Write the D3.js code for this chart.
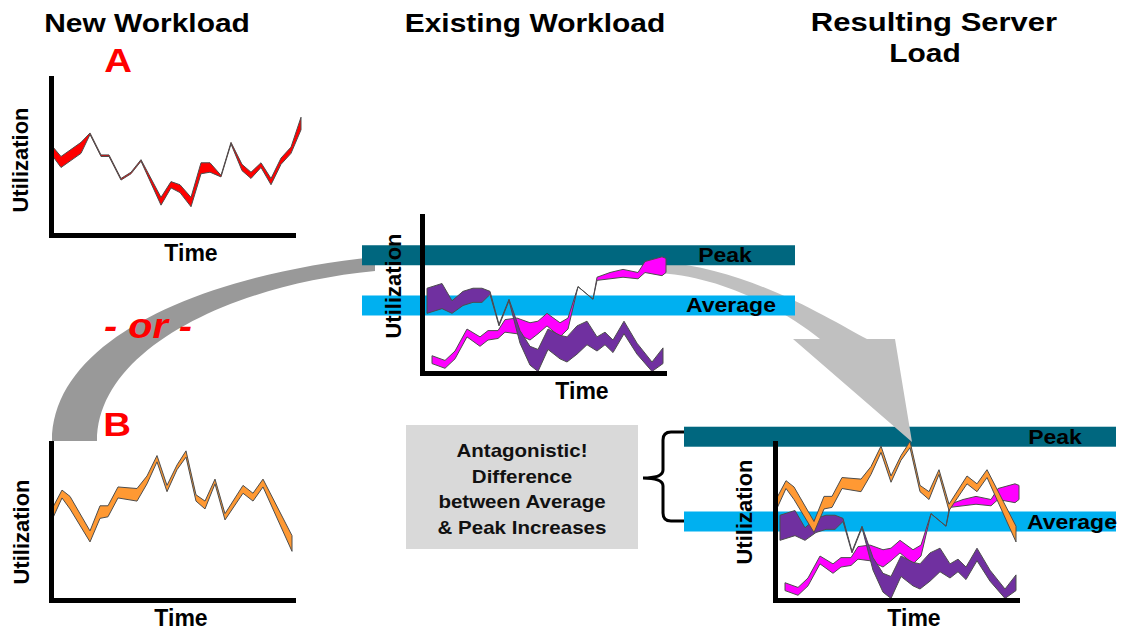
<!DOCTYPE html>
<html>
<head>
<meta charset="utf-8">
<script src="https://cdnjs.cloudflare.com/ajax/libs/d3/7.8.5/d3.min.js"></script>
<style>
  body { margin: 0; background: #fff; }
  svg { display: block; }
  text { font-family: Arial, "Liberation Sans", sans-serif; font-weight: bold; }
</style>
</head>
<body>
<div id="chart"></div>
<script>
// ---- data (time steps, upper / lower edge of each workload band, utilization %) ----
const aTime = [0.2, 1.0, 3.0, 3.9, 5.0, 5.8, 7.0, 8.0, 9.0, 11.0, 12.0, 12.9, 14.0, 15.0, 15.9, 17.0, 18.0, 19.1, 20.0, 21.0, 22.0, 23.0, 24.0, 25.0];
const aHigh = [56, 50, 59, 65, 51, 51, 36, 40, 48, 24, 34, 32, 24, 46, 46, 38, 59, 45, 40, 46, 36, 49, 56, 75];
const aLow  = [50, 43, 52, 64, 50, 50, 35, 39, 47, 19, 30, 27, 18, 39, 40, 37, 58, 41, 36, 43, 32, 45, 52, 67];

const bTime = [0.1, 1.1, 1.9, 3.9, 4.9, 5.7, 6.7, 8.6, 9.6, 10.6, 11.6, 12.6, 13.5, 14.5, 15.4, 16.4, 17.4, 19.2, 20.2, 21.2, 24.1];
const bHigh = [58, 70, 66, 44, 60, 60, 72, 71, 79, 92, 73, 86, 95, 67, 63, 77, 55, 73, 68, 77, 41];
const bLow  = [51, 65, 58, 37, 52, 53, 65, 63, 74, 88, 69, 83, 91, 63, 58, 74, 51, 68, 63, 72, 31];

const purpleTime = [0.5, 2.0, 3.0, 4.1, 5.1, 6.0, 6.8, 7.7, 8.7, 9.8, 10.8, 11.6, 12.6, 13.8, 14.5, 15.5, 16.5, 17.5, 18.3, 19.1, 20.2, 21.5, 23.0, 24.1];
const purpleHigh = [54, 57, 46, 52, 54, 54, 52, 31, 47, 27, 17, 15, 28, 24, 23, 30, 33, 23, 26, 21, 33, 19, 7, 16];
const purpleLow  = [38, 41, 38, 43, 45, 45, 50, 30, 46, 19, 5, 1, 15, 9, 7, 12, 18, 14, 18, 13, 25, 12, 1, 6];

const pinkTime = [1.0, 2.3, 3.3, 4.5, 5.8, 6.6, 7.6, 8.3, 9.5, 10.8, 11.6, 12.5, 13.8, 14.6, 15.6, 17.1, 17.5, 18.8, 20.1, 21.6, 22.3, 24.0, 24.4];
const pinkHigh = [11, 8, 14, 28, 23, 27, 27, 34, 35, 32, 33, 38, 32, 35, 55, 47, 61, 64, 66, 64, 71, 74, 73];
const pinkLow  = [6, 3, 9, 23, 17, 21, 22, 26, 25, 21, 25, 30, 23, 28, 55, 47, 59, 60, 61, 60, 64, 62, 64];

const levelNames = ["Peak", "Average"];
const existingLevels = [75, 43];
const resultingLevels = [104, 50];
const resultingLift = 6;   // new workload B sits higher once combined

const titles = ["New Workload", "Existing Workload", "Resulting Server", "Load"];
const noteLines = ["Antagonistic!", "Difference", "between Average", "& Peak Increases"];

// ---- colours ----
const peakColor = "#00677f";
const avgColor = "#00b0f0";
const red = "#ff0000", orange = "#ff9933", pink = "#ff00ff", purple = "#7030a0";

const W = 1121, H = 632;
const svg = d3.select("#chart").append("svg").attr("width", W).attr("height", H);

// every small chart uses the same size of axes
const x = d3.scaleLinear().domain([0, 24.2]).range([0, 242]);
const y = d3.scaleLinear().domain([0, 100]).range([0, -157]);

const area = d3.area()
  .x(d => x(d.t))
  .y0(d => y(d.lo))
  .y1(d => y(d.hi));

function band(time, high, low, lift) {
  return time.map((t, i) => ({ t: t, hi: high[i] + lift, lo: low[i] + lift }));
}

function stretchText(g, str, px, py, size, sx) {
  return g.append("text")
    .attr("transform", "translate(" + px + "," + py + ") scale(" + sx + ",1)")
    .attr("text-anchor", "middle")
    .attr("font-size", size)
    .text(str);
}

function drawBars(ox, oy, levels, left, right) {
  const g = svg.append("g").attr("transform", "translate(" + ox + "," + oy + ")");
  g.selectAll("rect")
    .data(levels)
    .enter()
    .append("rect")
    .attr("x", left)
    .attr("width", right - left)
    .attr("y", d => y(d) - 10)
    .attr("height", 20)
    .attr("fill", (d, i) => i === 0 ? peakColor : avgColor);
  return g;
}

function drawBarLabels(g, levels, labelX) {
  levels.forEach(function (d, i) {
    stretchText(g, levelNames[i], labelX[i], y(d) + 7, 20, 1.15).attr("fill", "#000");
  });
}

// ---- resulting server load bars (under the arrow tip) ----
const resBars = drawBars(775, 600, resultingLevels, -91, 341);

// ---- arrows ----
const arrowOne = d3.path();
arrowOne.moveTo(375, 257);
arrowOne.bezierCurveTo(200, 275, 52, 340, 52, 441);
arrowOne.lineTo(97, 441);
arrowOne.bezierCurveTo(97, 350, 230, 285, 375, 271);
arrowOne.closePath();
svg.append("path").attr("d", arrowOne.toString()).attr("fill", "#999999");

const arrowTwo = d3.path();
arrowTwo.moveTo(660, 262);
arrowTwo.bezierCurveTo(750, 268, 830, 320, 867, 339);
arrowTwo.lineTo(895, 339);
arrowTwo.lineTo(912, 442);
arrowTwo.lineTo(793, 339);
arrowTwo.lineTo(820, 339);
arrowTwo.bezierCurveTo(790, 315, 730, 278, 660, 273);
arrowTwo.closePath();
svg.append("path").attr("d", arrowTwo.toString()).attr("fill", "#c0c0c0");

// ---- existing workload bars ----
const exBars = drawBars(422, 373, existingLevels, -60, 373);

// ---- note box and brace ----
svg.append("rect")
  .attr("x", 406).attr("y", 425)
  .attr("width", 232).attr("height", 124)
  .attr("fill", "#d9d9d9");
noteLines.forEach(function (line, i) {
  stretchText(svg, line, 522, 457 + i * 25.7, 18, 1.14).attr("fill", "#111");
});

const brace = d3.path();
brace.moveTo(684, 432);
brace.lineTo(671, 432);
brace.quadraticCurveTo(663, 432, 663, 440);
brace.lineTo(663, 470);
brace.quadraticCurveTo(663, 478, 643, 478);
brace.quadraticCurveTo(663, 478, 663, 486);
brace.lineTo(663, 513);
brace.quadraticCurveTo(663, 521, 671, 521);
brace.lineTo(684, 521);
svg.append("path").attr("d", brace.toString())
  .attr("fill", "none").attr("stroke", "#000").attr("stroke-width", 3);

// ---- the four small charts ----
const panels = [
  { ox: 51,  oy: 235, timeX: 140, utilX: -30.5, utilY: 75,
    bands: [{ data: band(aTime, aHigh, aLow, 0), color: red }] },
  { ox: 51,  oy: 600, timeX: 130, utilX: -30, utilY: 68,
    bands: [{ data: band(bTime, bHigh, bLow, 0), color: orange }] },
  { ox: 422, oy: 373, timeX: 160, utilX: -28.5, utilY: 87,
    bands: [{ data: band(pinkTime, pinkHigh, pinkLow, 0), color: pink },
            { data: band(purpleTime, purpleHigh, purpleLow, 0), color: purple }] },
  { ox: 775, oy: 600, timeX: 139, utilX: -31, utilY: 88,
    bands: [{ data: band(pinkTime, pinkHigh, pinkLow, 0), color: pink },
            { data: band(purpleTime, purpleHigh, purpleLow, 0), color: purple },
            { data: band(bTime, bHigh, bLow, resultingLift), color: orange }] }
];

panels.forEach(function (p) {
  const g = svg.append("g").attr("transform", "translate(" + p.ox + "," + p.oy + ")");

  g.selectAll("path.band")
    .data(p.bands)
    .enter()
    .append("path")
    .attr("class", "band")
    .attr("d", d => area(d.data))
    .attr("fill", d => d.color)
    .attr("stroke", "#4d4d4d")
    .attr("stroke-width", 1)
    .attr("stroke-linejoin", "round");

  const xAxis = g.append("g").call(d3.axisBottom(x).tickValues([]).tickSizeOuter(0));
  const yAxis = g.append("g").call(d3.axisLeft(y).tickValues([]).tickSizeOuter(0));
  [xAxis, yAxis].forEach(function (a) {
    a.select(".domain")
      .attr("stroke", "#000")
      .attr("stroke-width", 5)
      .attr("stroke-linecap", "square");
  });

  g.append("text")
    .attr("x", p.timeX).attr("y", 26)
    .attr("text-anchor", "middle")
    .attr("font-size", 23)
    .text("Time");

  g.append("text")
    .attr("transform", "translate(" + p.utilX + "," + (-p.utilY) + ") rotate(-90)")
    .attr("text-anchor", "middle")
    .attr("dy", "0.35em")
    .attr("font-size", 22)
    .text("Utilization");
});

drawBarLabels(exBars, existingLevels, [303, 309]);
drawBarLabels(resBars, resultingLevels, [280, 297]);

// ---- headings ----
stretchText(svg, titles[0], 147, 32, 26.5, 1.13);
stretchText(svg, titles[1], 535, 32, 26.5, 1.13);
stretchText(svg, titles[2], 934, 31, 26.5, 1.17);
stretchText(svg, titles[3], 925, 62, 26.5, 1.13);

stretchText(svg, "A", 118, 72, 34, 1.13).attr("fill", red);
stretchText(svg, "B", 117, 436, 34, 1.13).attr("fill", red);
stretchText(svg, "- or -", 148, 338, 36, 1.1)
  .attr("fill", red)
  .attr("font-style", "italic");
</script>
</body>
</html>
